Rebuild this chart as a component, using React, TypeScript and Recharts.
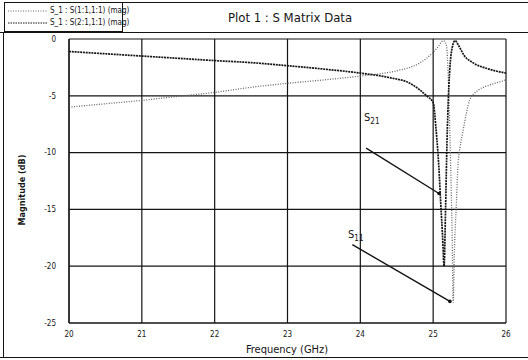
import { LineChart, Line, XAxis, YAxis, CartesianGrid, ReferenceLine, ReferenceDot } from 'recharts';

const FONT = '"Liberation Sans Narrow", "DejaVu Sans Condensed", "Liberation Sans", Arial, sans-serif';

// axis ticks
const freqTicks = [20, 21, 22, 23, 24, 25, 26];
const magTicks = [-25, -20, -15, -10, -5, 0];
const freqMinor = Array.from({ length: 61 }, (_, i) => 20 + i * 0.1);
const magMinor = Array.from({ length: 51 }, (_, i) => -25 + i * 0.5);

// S(1,1) magnitude, dB
const s11Freq = [20, 20.5, 21, 21.5, 22, 22.5, 23, 23.5, 24, 24.5, 24.7, 24.82, 24.98, 25.06, 25.14, 25.18, 25.2, 25.22, 25.24, 25.26, 25.275, 25.29, 25.32, 25.34, 25.37, 25.41, 25.46, 25.5, 25.62, 25.75, 25.9, 26];
const s11Mag = [-6.0, -5.7, -5.4, -5.05, -4.7, -4.25, -3.9, -3.6, -3.26, -2.8, -2.45, -2.1, -1.3, -0.75, -0.15, -0.5, -2.2, -6.0, -11, -17, -23.2, -19, -14.3, -11.2, -9.5, -8.1, -6.4, -5.4, -4.5, -4.1, -3.8, -3.6];

// S(2,1) magnitude, dB
const s21Freq = [20, 20.5, 21, 21.5, 22, 22.5, 23, 23.5, 24, 24.4, 24.68, 24.8, 24.91, 25.0, 25.04, 25.08, 25.1, 25.13, 25.15, 25.17, 25.19, 25.21, 25.23, 25.26, 25.3, 25.36, 25.42, 25.55, 25.74, 26];
const s21Mag = [-1.1, -1.3, -1.5, -1.7, -1.9, -2.08, -2.35, -2.65, -3.0, -3.4, -3.9, -4.4, -5.0, -5.6, -8.0, -11.5, -14.0, -17.5, -20.0, -15.0, -9.0, -5.0, -2.5, -0.8, -0.15, -0.7, -1.4, -2.1, -2.6, -3.0];

const s11 = s11Freq.map((f, i) => ({ f, mag: s11Mag[i] }));
const s21 = s21Freq.map((f, i) => ({ f, mag: s21Mag[i] }));

// annotation pointers (data coords)
const s21Pointer = [{ x: 24.08, y: -9.6 }, { x: 25.08, y: -13.6 }];
const s11Pointer = [{ x: 23.89, y: -18.1 }, { x: 25.23, y: -23.1 }];

const INK = '#141414';

function Legend() {
  const rows = [
    { label: 'S_1 : S(1:1,1:1) (mag)', color: '#666', dash: '1 1.5' },
    { label: 'S_1 : S(2:1,1:1) (mag)', color: INK, dash: '1.5 1' },
  ];
  return (
    <div style={{ position: 'absolute', left: 4, top: 2, width: 117, height: 28, border: `1px solid ${INK}`, background: '#fff' }}>
      {rows.map((r, i) => (
        <div key={i} style={{ position: 'absolute', left: 3, top: 3 + i * 12, display: 'flex', alignItems: 'center', fontSize: 8, fontFamily: FONT, color: INK, whiteSpace: 'nowrap' }}>
          <svg width={40} height={4}><line x1={0} y1={2} x2={40} y2={2} stroke={r.color} strokeWidth={1} strokeDasharray={r.dash} /></svg>
          <span style={{ marginLeft: 2 }}>{r.label}</span>
        </div>
      ))}
    </div>
  );
}

export default function App() {
  return (
    <div style={{ position: 'absolute', left: 0, top: 0, width: 528, height: 360, background: '#fff', fontFamily: FONT, overflow: 'hidden' }}>
      {/* panel frame */}
      <div style={{ position: 'absolute', left: 121, top: 2, width: 407, height: 0, borderTop: `1px solid ${INK}` }} />
      <div style={{ position: 'absolute', left: 0, top: 32, width: 528, height: 0, borderTop: `1px solid ${INK}` }} />
      <div style={{ position: 'absolute', left: 3, top: 32, width: 0, height: 326, borderLeft: `1px solid ${INK}` }} />
      <div style={{ position: 'absolute', left: 0, top: 357, width: 528, height: 0, borderTop: `1px solid ${INK}` }} />

      <LineChart width={528} height={360} margin={{ top: 39, right: 22, bottom: 17, left: 0 }}>
        <CartesianGrid stroke={INK} strokeWidth={1.2} />
        <XAxis dataKey="f" type="number" domain={[20, 26]} ticks={freqTicks} height={20} allowDataOverflow
          tickLine={false} axisLine={{ stroke: INK, strokeWidth: 1.2 }} tickMargin={2}
          tick={{ fontSize: 8, fill: INK, fontFamily: FONT }} />
        <YAxis type="number" domain={[-25, 0]} ticks={magTicks} width={69} allowDataOverflow
          tickLine={false} axisLine={{ stroke: INK, strokeWidth: 1.2 }} tickMargin={7}
          tick={{ fontSize: 8, fill: INK, fontFamily: FONT }} />
        <XAxis xAxisId="minor" type="number" domain={[20, 26]} ticks={freqMinor} mirror height={0}
          axisLine={false} tickSize={3} tickLine={{ stroke: INK }} tickFormatter={() => ''} />
        <YAxis yAxisId="minor" type="number" domain={[-25, 0]} ticks={magMinor} mirror width={0}
          axisLine={false} tickSize={4} tickLine={{ stroke: INK }} tickFormatter={() => ''} />

        <Line data={s11} dataKey="mag" type="monotone" stroke="#666" strokeWidth={1.3}
          strokeDasharray="1 1.5" dot={false} isAnimationActive={false} />
        <Line data={s21} dataKey="mag" type="monotone" stroke={INK} strokeWidth={1.7}
          strokeDasharray="2 0.8" dot={false} isAnimationActive={false} />

        <ReferenceLine segment={s21Pointer} stroke={INK} strokeWidth={1.4} />
        <ReferenceLine segment={s11Pointer} stroke={INK} strokeWidth={1.4} />
        <ReferenceDot x={s21Pointer[1].x} y={s21Pointer[1].y} r={1.8} fill={INK} stroke="none" />
        <ReferenceDot x={s11Pointer[1].x} y={s11Pointer[1].y} r={1.8} fill={INK} stroke="none" />
      </LineChart>

      <Legend />
      <div style={{ position: 'absolute', left: 190, top: 10, width: 200, textAlign: 'center', fontSize: 13, color: INK }}>
        Plot 1 : S Matrix Data
      </div>
      <div style={{ position: 'absolute', left: 22, top: 190, transform: 'translate(-50%, -50%) rotate(-90deg)', fontSize: 9, fontWeight: 'bold', color: INK, whiteSpace: 'nowrap' }}>
        Magnitude (dB)
      </div>
      <div style={{ position: 'absolute', left: 187, top: 343, width: 200, textAlign: 'center', fontSize: 11, color: INK }}>
        Frequency (GHz)
      </div>
      <div style={{ position: 'absolute', left: 364, top: 111, fontSize: 11, color: INK }}>
        S<sub style={{ fontSize: 8 }}>21</sub>
      </div>
      <div style={{ position: 'absolute', left: 348, top: 228, fontSize: 11, color: INK }}>
        S<sub style={{ fontSize: 8 }}>11</sub>
      </div>
    </div>
  );
}
